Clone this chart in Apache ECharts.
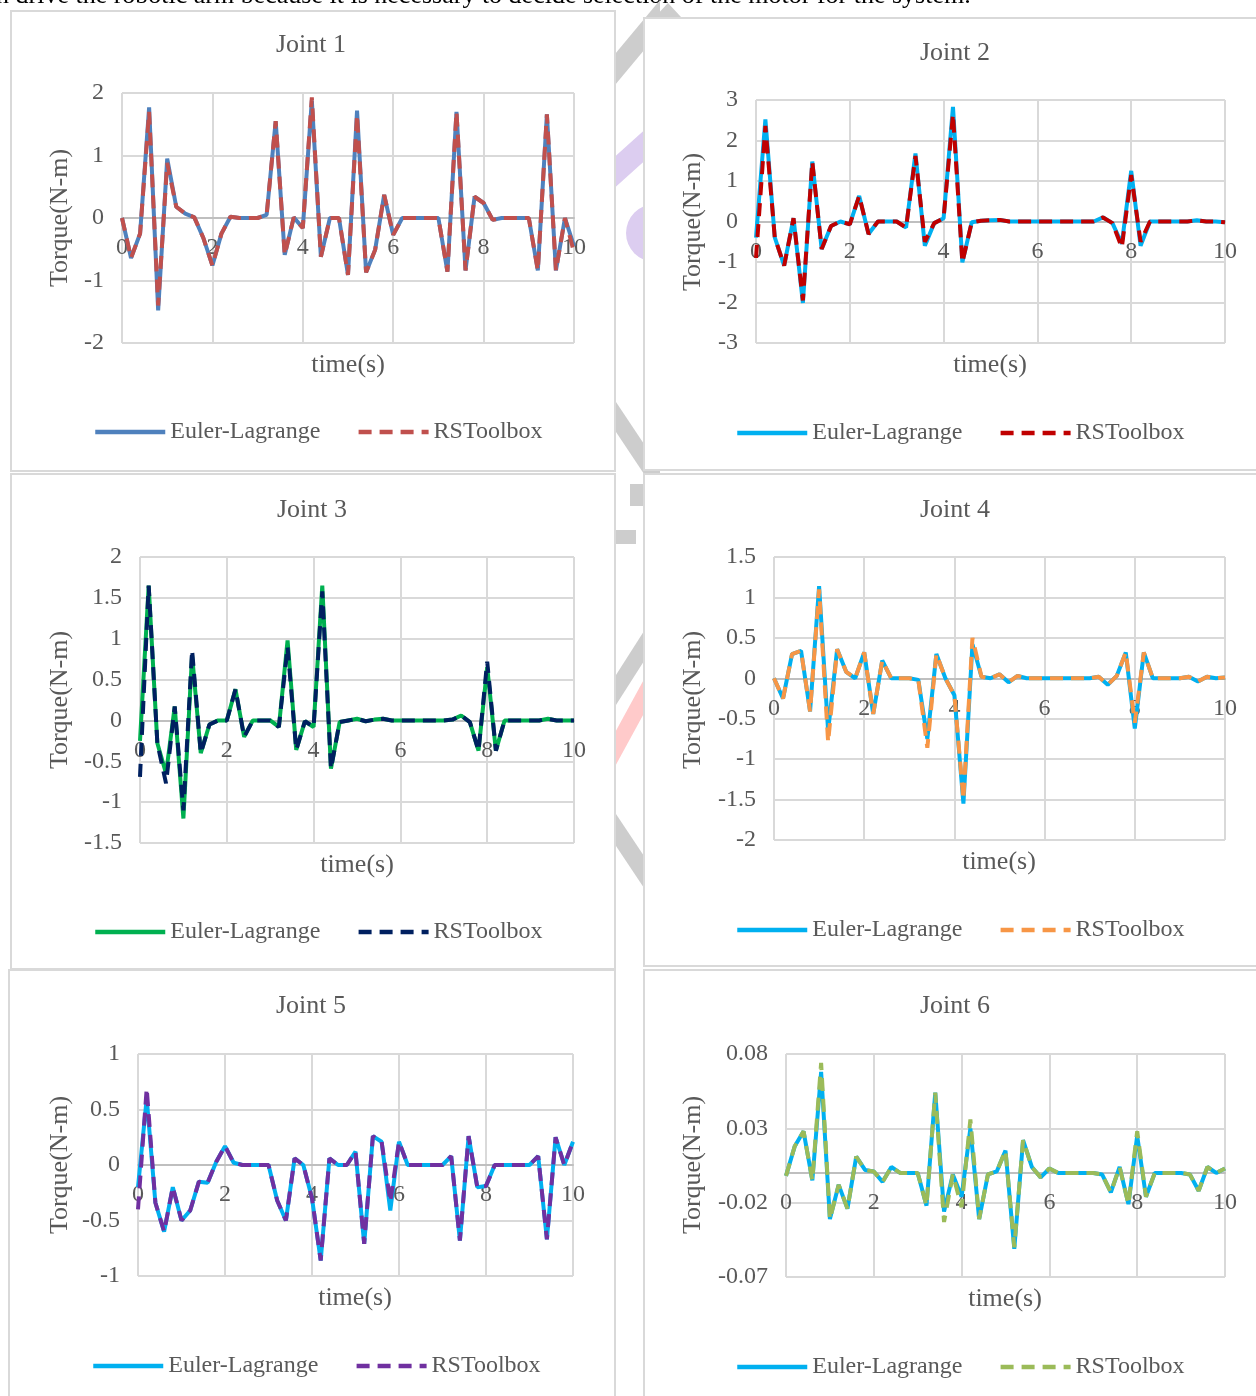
<!DOCTYPE html>
<html>
<head>
<meta charset="utf-8">
<script src="https://cdn.jsdelivr.net/npm/echarts@6/dist/echarts.min.js"></script>
<style>
  html, body { margin: 0; padding: 0; background: #fff; }
  body { position: relative; width: 1256px; height: 1396px; overflow: hidden; }
  #bg { position: absolute; left: 0; top: 0; width: 1256px; height: 1396px; }
  .panel { position: absolute; box-sizing: border-box; border: 2px solid #d9d9d9; background: #fff; }
  .panel .chart { position: absolute; left: -2px; top: -2px; }
</style>
</head>
<body>
<div id="bg"></div>
<div class="panel" id="p1" style="left:10px; top:10px; width:606px; height:462px;"></div>
<div class="panel" id="p2" style="left:643px; top:17px; width:620px; height:454px;"></div>
<div class="panel" id="p3" style="left:10px; top:473px; width:606px; height:497px;"></div>
<div class="panel" id="p4" style="left:643px; top:473px; width:620px; height:494px;"></div>
<div class="panel" id="p5" style="left:8px; top:969px; width:608px; height:440px;"></div>
<div class="panel" id="p6" style="left:643px; top:969px; width:620px; height:440px;"></div>

<script>
// time samples (s)
const time = [0, 0.2, 0.4, 0.6, 0.8, 1, 1.2, 1.4, 1.6, 1.8, 2, 2.2, 2.4, 2.6, 2.8, 3, 3.2, 3.4, 3.6, 3.8,
  4, 4.2, 4.4, 4.6, 4.8, 5, 5.2, 5.4, 5.6, 5.8, 6, 6.2, 6.4, 6.6, 6.8, 7, 7.2, 7.4, 7.6, 7.8,
  8, 8.2, 8.4, 8.6, 8.8, 9, 9.2, 9.4, 9.6, 9.8, 10]

const legendNames = ['Euler-Lagrange', 'RSToolbox']
const xTicks = [0, 10, 2]

// Joint 1
const joint1EL = [0, -0.64, -0.25, 1.77, -1.48, 0.95, 0.18, 0.07, 0.01, -0.32, -0.76, -0.25, 0.02, 0, 0, 0, 0.05, 1.55, -0.59, 0.01,
  -0.16, 1.88, -0.62, 0, 0, -0.91, 1.72, -0.87, -0.51, 0.37, -0.27, 0, 0, 0, 0, 0, -0.86, 1.70, -0.84, 0.34,
  0.24, -0.03, 0, 0, 0, 0, -0.84, 1.66, -0.84, 0, -0.45]
const joint1RS = [0, -0.64, -0.25, 1.70, -1.40, 0.88, 0.18, 0.07, 0.01, -0.32, -0.76, -0.25, 0.02, 0, 0, 0, 0.05, 1.55, -0.59, 0.01,
  -0.16, 1.93, -0.62, 0, 0, -0.91, 1.65, -0.87, -0.51, 0.37, -0.27, 0, 0, 0, 0, 0, -0.86, 1.70, -0.84, 0.34,
  0.24, -0.03, 0, 0, 0, 0, -0.84, 1.66, -0.84, 0, -0.55]
const joint1Y = [-2, 2, 1]

// Joint 2
const joint2EL = [-0.4, 2.52, -0.39, -1.09, 0.08, -2.01, 1.48, -0.68, -0.11, 0, -0.07, 0.63, -0.31, 0, 0, 0, -0.15, 1.68, -0.6, -0.04,
  0.08, 2.83, -1.01, -0.02, 0.02, 0.03, 0.04, 0, 0, 0, 0, 0, 0, 0, 0, 0, 0, 0.1, -0.04, -0.55,
  1.25, -0.6, 0, 0, 0, 0, 0, 0.03, 0, 0, -0.02]
const joint2RS = [-0.9, 2.36, -0.39, -1.09, 0.08, -1.95, 1.48, -0.68, -0.11, 0, -0.07, 0.63, -0.31, 0, 0, 0, -0.15, 1.62, -0.5, -0.04,
  0.08, 2.65, -1.01, -0.02, 0.02, 0.03, 0.04, 0, 0, 0, 0, 0, 0, 0, 0, 0, 0, 0.1, -0.04, -0.64,
  1.15, -0.5, 0, 0, 0, 0, 0, 0.03, 0, 0, -0.02]
const joint2Y = [-3, 3, 1]

// Joint 3
const joint3EL = [-0.25, 1.65, -0.28, -0.65, 0.17, -1.2, 0.8, -0.4, -0.05, 0, 0, 0.38, -0.2, 0, 0, 0, -0.08, 0.98, -0.36, -0.01,
  -0.08, 1.65, -0.59, -0.02, 0, 0.02, -0.01, 0.01, 0.02, 0, 0, 0, 0, 0, 0, 0, 0.01, 0.06, -0.02, -0.37,
  0.65, -0.37, 0, 0, 0, 0, 0, 0.02, 0, 0, 0]
const joint3RS = [-0.69, 1.65, -0.28, -0.77, 0.17, -1.1, 0.86, -0.4, -0.05, 0, 0, 0.38, -0.2, 0, 0, 0, -0.08, 0.9, -0.36, -0.01,
  -0.08, 1.58, -0.59, -0.02, 0, 0.02, -0.01, 0.01, 0.02, 0, 0, 0, 0, 0, 0, 0, 0.01, 0.06, -0.02, -0.37,
  0.72, -0.37, 0, 0, 0, 0, 0, 0.02, 0, 0, 0]
const joint3Y = [-1.5, 2, 0.5]

// Joint 4
const joint4EL = [0, -0.25, 0.3, 0.34, -0.41, 1.14, -0.65, 0.36, 0.08, 0, 0.32, -0.44, 0.22, 0, 0, 0, -0.02, -0.75, 0.3, 0,
  -0.21, -1.55, 0.42, 0.02, 0, 0.05, -0.05, 0.03, 0, 0, 0, 0, 0, 0, 0, 0, 0.02, -0.08, 0.03, 0.32,
  -0.62, 0.32, 0, 0, 0, 0, 0.02, -0.04, 0.02, 0, 0.01]
const joint4RS = [0, -0.25, 0.3, 0.34, -0.41, 1.1, -0.79, 0.36, 0.08, 0, 0.32, -0.44, 0.22, 0, 0, 0, -0.02, -0.86, 0.3, 0,
  -0.21, -1.5, 0.5, 0.02, 0, 0.05, -0.05, 0.03, 0, 0, 0, 0, 0, 0, 0, 0, 0.02, -0.08, 0.03, 0.32,
  -0.55, 0.32, 0, 0, 0, 0, 0.02, -0.04, 0.02, 0, 0.01]
const joint4Y = [-2, 1.5, 0.5]

// Joint 5
const joint5EL = [-0.2, 0.6, -0.34, -0.6, -0.2, -0.5, -0.41, -0.15, -0.16, 0.03, 0.17, 0.02, 0, 0, 0, 0, -0.32, -0.5, 0.06, 0,
  -0.3, -0.86, 0.06, 0, 0, 0.12, -0.71, 0.26, 0.21, -0.41, 0.21, 0, 0, 0, 0, 0, 0.08, -0.68, 0.26, -0.2,
  -0.19, 0, 0, 0, 0, 0, 0.08, -0.67, 0.25, 0, 0.21]
const joint5RS = [-0.4, 0.69, -0.34, -0.6, -0.2, -0.5, -0.41, -0.15, -0.16, 0.03, 0.17, 0.02, 0, 0, 0, 0, -0.32, -0.5, 0.06, 0,
  -0.3, -0.86, 0.06, 0, 0, 0.12, -0.71, 0.26, 0.21, -0.33, 0.21, 0, 0, 0, 0, 0, 0.08, -0.68, 0.26, -0.2,
  -0.19, 0, 0, 0, 0, 0, 0.08, -0.67, 0.25, 0, 0.21]
const joint5Y = [-1, 1, 0.5]

// Joint 6
const joint6EL = [-0.002, 0.018, 0.028, -0.005, 0.068, -0.031, -0.008, -0.024, 0.011, 0.002, 0.001, -0.006, 0.004, 0, 0, 0, -0.022, 0.054, -0.026, -0.001,
  -0.016, 0.03, -0.031, -0.001, 0.001, 0.015, -0.051, 0.022, 0.004, -0.003, 0.003, 0, 0, 0, 0, 0, -0.001, -0.013, 0.004, -0.021,
  0.025, -0.016, 0, 0, 0, 0, -0.001, -0.012, 0.004, 0, 0.003]
const joint6RS = [-0.002, 0.018, 0.028, -0.005, 0.074, -0.031, -0.008, -0.024, 0.011, 0.002, 0.001, -0.006, 0.004, 0, 0, 0, -0.022, 0.054, -0.033, -0.001,
  -0.023, 0.036, -0.031, -0.001, 0.001, 0.015, -0.05, 0.022, 0.004, -0.003, 0.003, 0, 0, 0, 0, 0, -0.001, -0.013, 0.004, -0.021,
  0.028, -0.016, 0, 0, 0, 0, -0.001, -0.012, 0.004, 0, 0.003]
const joint6Y = [-0.07, 0.08, 0.05]

const FONT = '"Liberation Serif", "Times New Roman", serif'
const TEXT = '#595959'

// layout per panel (chart-local pixels)
const panels = [
  { id: 'p1', title: 'Joint 1', el: joint1EL, rs: joint1RS, y: joint1Y, colors: ['#4f81bd', '#c0504d'],
    grid: [112, 83, 452, 250], titlePos: [301, 35], xName: [338, 355], yName: [50, 208], legend: [83, 422] },
  { id: 'p2', title: 'Joint 2', el: joint2EL, rs: joint2RS, y: joint2Y, colors: ['#00b0f0', '#c00000'],
    grid: [113, 83, 469, 243], titlePos: [312, 36], xName: [347, 348], yName: [50, 205], legend: [92, 416] },
  { id: 'p3', title: 'Joint 3', el: joint3EL, rs: joint3RS, y: joint3Y, colors: ['#00b050', '#002060'],
    grid: [130, 84, 434, 286], titlePos: [302, 37], xName: [347, 392], yName: [50, 227], legend: [83, 459] },
  { id: 'p4', title: 'Joint 4', el: joint4EL, rs: joint4RS, y: joint4Y, colors: ['#00b0f0', '#f79646'],
    grid: [131, 84, 451, 283], titlePos: [312, 37], xName: [356, 389], yName: [50, 227], legend: [92, 457] },
  { id: 'p5', title: 'Joint 5', el: joint5EL, rs: joint5RS, y: joint5Y, colors: ['#00b0f0', '#7030a0'],
    grid: [130, 85, 435, 222], titlePos: [303, 37], xName: [347, 329], yName: [52, 196], legend: [83, 397] },
  { id: 'p6', title: 'Joint 6', el: joint6EL, rs: joint6RS, y: joint6Y, colors: ['#00b0f0', '#9bbb59'],
    grid: [143, 85, 439, 223], titlePos: [312, 37], xName: [362, 330], yName: [50, 196], legend: [92, 398],
    yFormat: v => v.toFixed(2) }
]

const pairs = ys => time.map((t, i) => [t, ys[i]])

const label = (text, pos, size, rot) => ({
  type: 'text', x: pos[0], y: pos[1], rotation: rot || 0,
  style: { text: text, font: size + 'px ' + FONT, fill: TEXT,
    align: 'center', verticalAlign: 'middle', textAlign: 'center', textVerticalAlign: 'middle' }
})

const buildOption = p => {
  // the time axis sits on the y = 0 line, like the Excel original
  const zeroOffset = -p.grid[3] * (0 - p.y[0]) / (p.y[1] - p.y[0])
  return {
    animation: false,
    grid: { left: p.grid[0], top: p.grid[1], width: p.grid[2], height: p.grid[3] },
    xAxis: {
      type: 'value', min: xTicks[0], max: xTicks[1], interval: xTicks[2],
      position: 'bottom', offset: zeroOffset,
      axisLine: { onZero: false, lineStyle: { color: '#bfbfbf', width: 2 } },
      axisTick: { show: false },
      axisLabel: { margin: 18, fontSize: 24, color: TEXT, fontFamily: FONT },
      splitLine: { show: true, lineStyle: { color: '#d9d9d9', width: 2 } }
    },
    yAxis: {
      type: 'value', min: p.y[0], max: p.y[1], interval: p.y[2],
      axisLine: { show: false },
      axisTick: { show: false },
      axisLabel: { margin: 18, fontSize: 24, color: TEXT, fontFamily: FONT, formatter: p.yFormat },
      splitLine: { show: true, lineStyle: { color: '#d9d9d9', width: 2 } }
    },
    legend: {
      data: legendNames,
      left: p.legend[0], top: p.legend[1] - 12, padding: 0,
      itemWidth: 70, itemHeight: 14, itemGap: 36,
      itemStyle: { opacity: 0 },
      lineStyle: { width: 4.5 },
      textStyle: { fontSize: 24, color: TEXT, fontFamily: FONT }
    },
    graphic: [
      label(p.title, p.titlePos, 26),
      label('time(s)', p.xName, 26),
      label('Torque(N-m)', p.yName, 26, Math.PI / 2)
    ],
    series: [
      {
        name: legendNames[0], type: 'line', data: pairs(p.el), symbol: 'none', z: 2,
        itemStyle: { color: p.colors[0] },
        lineStyle: { color: p.colors[0], width: 4 }
      },
      {
        name: legendNames[1], type: 'line', data: pairs(p.rs), symbol: 'none', z: 3,
        itemStyle: { color: p.colors[1] },
        lineStyle: { color: p.colors[1], width: 4, type: [13, 8] }
      }
    ]
  }
}

panels.forEach(p => {
  const box = document.getElementById(p.id)
  const el = document.createElement('div')
  el.className = 'chart'
  el.style.width = box.offsetWidth + 'px'
  el.style.height = box.offsetHeight + 'px'
  box.appendChild(el)
  echarts.init(el).setOption(buildOption(p))
})

// page background: cut-off sentence at the top and the watermark pieces between the columns
const gray = '#cdcdcd'
const lilac = '#dccdf0'
const pink = '#ffcaca'
const poly = (pts, fill) => ({ type: 'polygon', shape: { points: pts }, style: { fill: fill } })
const bg = echarts.init(document.getElementById('bg'))
bg.setOption({
  animation: false,
  graphic: [
    { type: 'text', x: -4, y: 9,
      style: { text: 'n drive the robotic arm because it is necessary to decide selection of the motor for the system.',
        font: '26px ' + FONT, fill: '#000', verticalAlign: 'bottom', textVerticalAlign: 'bottom' } },
    poly([[655, 17], [668, 3], [681, 17]], gray),
    poly([[600, 72], [660, 0], [660, 31], [600, 103]], gray),
    poly([[600, 170], [660, 116], [660, 147], [600, 201]], lilac),
    { type: 'circle', shape: { cx: 655, cy: 233, r: 29 }, style: { fill: lilac } },
    poly([[600, 378], [660, 468], [660, 498], [600, 408]], gray),
    poly([[630, 484], [660, 484], [660, 506], [630, 506]], gray),
    poly([[612, 530], [636, 530], [636, 544], [612, 544]], gray),
    poly([[600, 700], [660, 606], [660, 636], [600, 730]], gray),
    poly([[600, 760], [660, 650], [660, 684], [600, 794]], pink),
    poly([[600, 790], [660, 880], [660, 912], [600, 822]], gray)
  ]
})
</script>
</body>
</html>
